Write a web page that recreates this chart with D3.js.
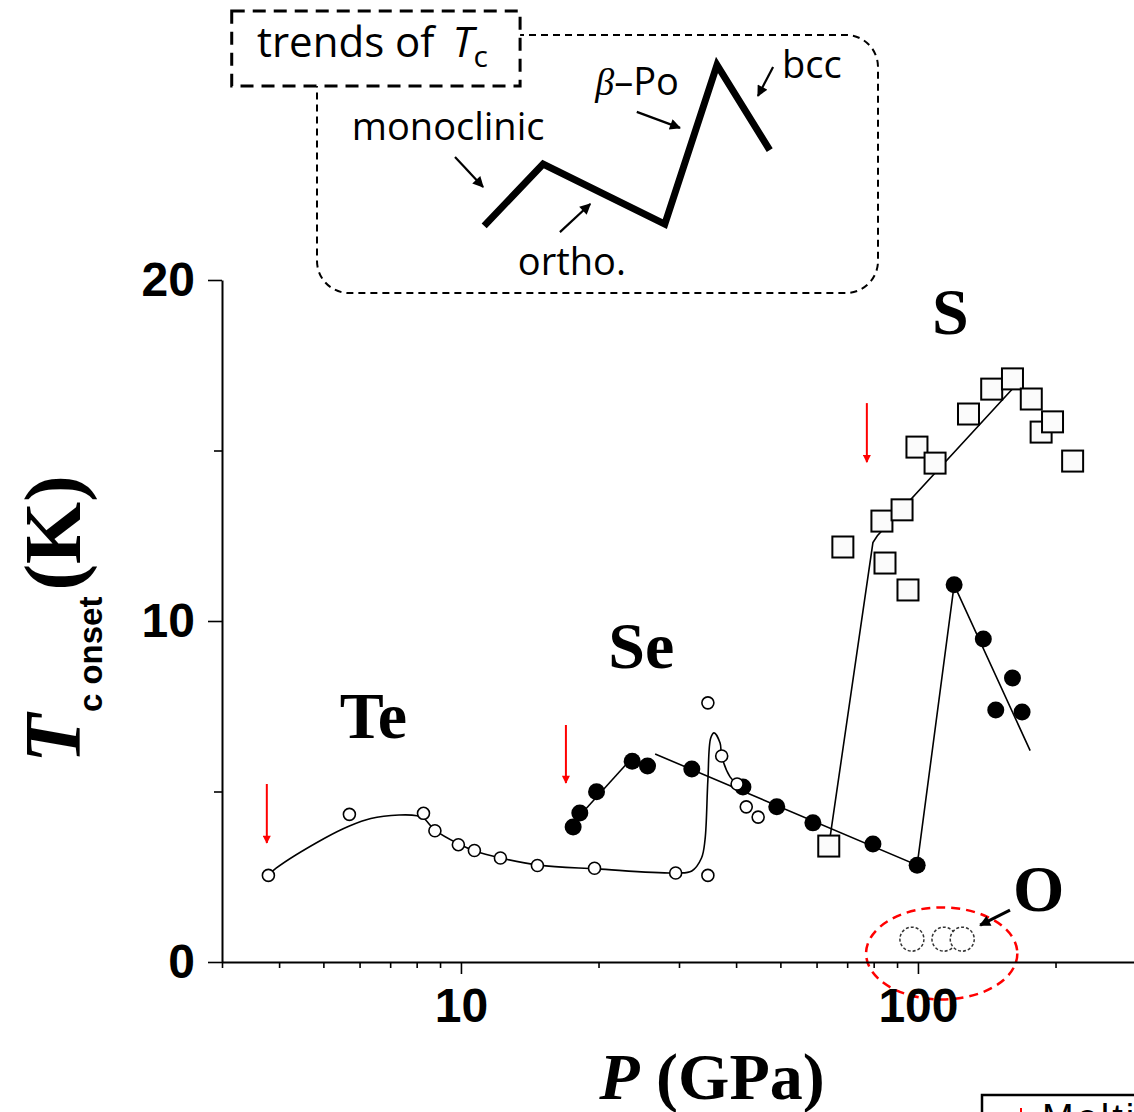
<!DOCTYPE html>
<html>
<head>
<meta charset="utf-8">
<script src="https://cdn.jsdelivr.net/npm/d3@7"></script>
<style>
	html, body { margin: 0; padding: 0; background: #fff; }
	.chart { width: 1134px; height: 1112px; overflow: hidden; }
	svg { display: block; }
</style>
</head>
<body>
<div class="chart"></div>
<script>
// Te, open circles (P in GPa, Tc onset in K)
const teP = [3.79, 5.70, 8.28, 8.77, 9.87, 10.7, 12.2, 14.7, 19.6, 29.5, 34.7, 34.7, 37.2, 40.2, 42.1, 44.7];
const teT = [2.54, 4.33, 4.36, 3.85, 3.44, 3.27, 3.05, 2.83, 2.75, 2.61, 2.54, 7.60, 6.04, 5.22, 4.55, 4.25];
// guide line through Te
const teLineP = [3.79, 3.94, 5.03, 5.70, 6.35, 7.32, 8.01, 8.28, 8.77, 9.9, 10.7, 12.2, 14.8, 19.8, 29.7, 32.0, 33.6, 34.2, 34.7, 35.2, 35.8, 36.9, 37.2, 38.8, 40.2];
const teLineT = [2.54, 2.75, 3.63, 3.99, 4.21, 4.31, 4.29, 4.22, 3.87, 3.46, 3.26, 3.05, 2.84, 2.73, 2.61, 2.67, 3.05, 3.58, 5.34, 6.57, 6.72, 6.42, 6.04, 5.43, 5.22];

// Se, filled circles
const seP = [17.6, 18.2, 19.8, 23.7, 25.6, 32.0, 41.4, 49.1, 58.9, 79.7, 99.6, 120, 139, 161, 148, 169];
const seT = [3.96, 4.37, 4.99, 5.89, 5.75, 5.66, 5.13, 4.55, 4.08, 3.46, 2.84, 11.06, 9.47, 8.33, 7.39, 7.33];
const seLineAP = [18.5, 23.0];
const seLineAT = [4.4, 5.8];
const seLineBP = [26.6, 99.6, 120, 176];
const seLineBT = [6.1, 2.84, 11.06, 6.2];

// S, open squares
const sP = [63.8, 68.5, 83.4, 84.7, 92.3, 95.1, 99.5, 109, 129, 145, 161, 177, 186, 197, 218];
const sT = [3.40, 12.17, 12.93, 11.70, 13.26, 10.91, 15.10, 14.63, 16.07, 16.80, 17.10, 16.51, 15.54, 15.84, 14.69];
const sLineP = [64.1, 79.7, 81.5, 166];
const sLineT = [3.58, 12.3, 12.5, 17.0];

// O, dashed circles
const oP = [97.0, 114, 125];
const oT = [0.67, 0.67, 0.67];

// red arrows (melting / transition marks)
const markP = [3.76, 16.97, 77.3];
const markTop = [5.22, 6.95, 16.39];
const markBottom = [3.49, 5.25, 14.66];

// element labels
const elements = ['Te', 'Se', 'S', 'O'];
const elementP = [5.43, 21.0, 107.4, 161.5];
const elementT = [6.57, 8.62, 18.42, 1.50];

// ticks
const xMajorTicks = [10, 100];
const xMinorTicks = [3, 4, 5, 6, 7, 8, 9, 20, 30, 40, 50, 60, 70, 80, 90, 200, 300];
const yMajorTicks = [0, 10, 20];
const yMinorTicks = [5, 15];

// inset: schematic trend of Tc (relative units 0-100)
const trendU = [29.8, 40.3, 62.0, 71.3, 80.7];
const trendV = [26.0, 50.0, 26.7, 88.4, 55.4];
const phases = ['monoclinic', 'ortho.', 'β–Po', 'bcc'];

d3.selection.prototype.tcChart = function init() {
	function createChart(el) {
		const $sel = d3.select(el);
		const width = 1134;
		const height = 1112;

		const serif = '"Liberation Serif", "Times New Roman", serif';
		const sans = '"Liberation Sans", Arial, sans-serif';
		const insetFont = '"Open Sans", "Noto Sans", sans-serif';

		// scales
		const scaleX = d3.scaleLog().domain([3, 300]).range([222, 1136]);
		const scaleY = d3.scaleLinear().domain([0, 20]).range([962, 280]);
		const insetX = d3.scaleLinear().domain([0, 100]).range([317, 878]);
		const insetY = d3.scaleLinear().domain([0, 100]).range([293, 35]);

		let $svg = null;
		let $vis = null;

		const zip = (a, b) => a.map((v, i) => [v, b[i]]);
		const line = d3.line().x(d => scaleX(d[0])).y(d => scaleY(d[1]));

		const Chart = {
			init() {
				$svg = $sel.append('svg')
					.attr('width', width)
					.attr('height', height)
					.style('background', '#fff');

				const $defs = $svg.append('defs');
				$defs.append('marker')
					.attr('id', 'head-red')
					.attr('markerUnits', 'userSpaceOnUse')
					.attr('viewBox', '0 0 10 10')
					.attr('refX', 9).attr('refY', 5)
					.attr('markerWidth', 9).attr('markerHeight', 8)
					.attr('orient', 'auto')
					.append('path').attr('d', 'M0,0L10,5L0,10z').attr('fill', '#f00');
				$defs.append('marker')
					.attr('id', 'head-black')
					.attr('markerUnits', 'userSpaceOnUse')
					.attr('viewBox', '0 0 10 10')
					.attr('refX', 9).attr('refY', 5)
					.attr('markerWidth', 13).attr('markerHeight', 11)
					.attr('orient', 'auto')
					.append('path').attr('d', 'M0,0L10,5L0,10z').attr('fill', '#000');

				$vis = $svg.append('g').attr('class', 'g-vis');

				Chart.render();
			},
			renderAxes() {
				$svg.append('g')
					.attr('class', 'axis-x')
					.attr('transform', `translate(0,${scaleY(0)})`)
					.call(d3.axisBottom(scaleX).tickValues(xMajorTicks).tickSize(12)
						.tickSizeOuter(0).tickPadding(14).tickFormat(d3.format('d')));
				$svg.append('g')
					.attr('transform', `translate(0,${scaleY(0)})`)
					.call(d3.axisBottom(scaleX).tickValues(xMinorTicks).tickSize(6)
						.tickSizeOuter(0).tickFormat(''))
					.call(g => g.select('.domain').remove());

				$svg.append('g')
					.attr('class', 'axis-y')
					.attr('transform', `translate(${scaleX(3)},0)`)
					.call(d3.axisLeft(scaleY).tickValues(yMajorTicks).tickSize(14)
						.tickSizeOuter(0).tickPadding(13));
				$svg.append('g')
					.attr('transform', `translate(${scaleX(3)},0)`)
					.call(d3.axisLeft(scaleY).tickValues(yMinorTicks).tickSize(8)
						.tickSizeOuter(0).tickFormat(''))
					.call(g => g.select('.domain').remove());

				$svg.selectAll('.tick line').attr('stroke', '#000').attr('stroke-width', 1.6);
				$svg.selectAll('.domain').attr('stroke', '#000').attr('stroke-width', 2);
				$svg.selectAll('.axis-x text, .axis-y text')
					.attr('fill', '#000')
					.style('font-family', sans)
					.style('font-weight', 'bold')
					.style('font-size', '48px');

				// y title
				const $yt = $svg.append('text')
					.attr('transform', `translate(80,${scaleY(10) - 2}) rotate(-90)`)
					.attr('text-anchor', 'middle')
					.style('font-weight', 'bold');
				$yt.append('tspan').text('T')
					.style('font-family', serif).style('font-style', 'italic').style('font-size', '80px');
				$yt.append('tspan').text('c onset').attr('dy', 22).attr('dx', 2)
					.style('font-family', sans).style('font-size', '33px');
				$yt.append('tspan').text('(K)').attr('dy', -22).attr('dx', 6)
					.style('font-family', serif).style('font-size', '80px');

				// x title
				const $xt = $svg.append('text')
					.attr('x', 712).attr('y', 1099)
					.attr('text-anchor', 'middle')
					.style('font-family', serif)
					.style('font-weight', 'bold')
					.style('font-size', '66px');
				$xt.append('tspan').text('P').style('font-style', 'italic');
				$xt.append('tspan').text(' (GPa)');
			},
			renderInset() {
				const $inset = $svg.append('g').attr('class', 'inset');
				$inset.append('rect')
					.attr('x', insetX(0)).attr('y', insetY(100))
					.attr('width', insetX(100) - insetX(0))
					.attr('height', insetY(0) - insetY(100))
					.attr('rx', 32)
					.attr('fill', 'none')
					.attr('stroke', '#000')
					.attr('stroke-width', 2)
					.attr('stroke-dasharray', '7 5');

				$inset.append('rect')
					.attr('x', insetX(-15.2)).attr('y', insetY(109.3))
					.attr('width', insetX(36.2) - insetX(-15.2))
					.attr('height', insetY(80.2) - insetY(109.3))
					.attr('fill', '#fff')
					.attr('stroke', '#000')
					.attr('stroke-width', 3)
					.attr('stroke-dasharray', '13 8');

				const $title = $inset.append('text')
					.attr('x', insetX(-10.7)).attr('y', insetY(91.5))
					.style('font-family', insetFont)
					.style('font-size', '42px');
				$title.append('tspan').text('trends of');
				$title.append('tspan').text('T').attr('dx', 18).style('font-style', 'italic');
				$title.append('tspan').text('c').attr('dy', 10).style('font-size', '30px');

				$inset.append('path')
					.datum(zip(trendU, trendV))
					.attr('d', d3.line().x(d => insetX(d[0])).y(d => insetY(d[1])))
					.attr('fill', 'none')
					.attr('stroke', '#000')
					.attr('stroke-width', 7)
					.attr('stroke-linejoin', 'miter');

				// phase arrows: [u0, v0, u1, v1]
				const arrows = [[24.6, 52.7, 29.6, 41.1], [43.3, 23.6, 48.7, 34.5],
					[57.0, 70.2, 64.7, 64.0], [81.3, 87.6, 78.6, 76.4]];
				$inset.selectAll('line.phase-arrow')
					.data(arrows)
					.join('line')
					.attr('class', 'phase-arrow')
					.attr('x1', d => insetX(d[0])).attr('y1', d => insetY(d[1]))
					.attr('x2', d => insetX(d[2])).attr('y2', d => insetY(d[3]))
					.attr('stroke', '#000')
					.attr('stroke-width', 2.2)
					.attr('marker-end', 'url(#head-black)');

				const labelPos = [[6.2, 59.3], [35.8, 7.0], [49.6, 76.7], [82.9, 83.3]];
				phases.forEach((p, i) => {
					const $t = $inset.append('text')
						.attr('x', insetX(labelPos[i][0]))
						.attr('y', insetY(labelPos[i][1]))
						.style('font-family', insetFont)
						.style('font-size', '38px');
					if (p.startsWith('β')) {
						$t.append('tspan').text('β').style('font-style', 'italic').style('font-family', serif);
						$t.append('tspan').text(p.slice(1));
					} else {
						$t.text(p);
					}
				});
			},
			render() {
				Chart.renderAxes();

				// guide lines
				$vis.append('path').datum(zip(teLineP, teLineT))
					.attr('d', line.curve(d3.curveCatmullRom.alpha(0.5)))
					.attr('fill', 'none').attr('stroke', '#000').attr('stroke-width', 1.6);
				line.curve(d3.curveLinear);
				[zip(seLineAP, seLineAT), zip(seLineBP, seLineBT), zip(sLineP, sLineT)].forEach(d => {
					$vis.append('path').datum(d)
						.attr('d', line)
						.attr('fill', 'none').attr('stroke', '#000').attr('stroke-width', 1.6);
				});

				// S squares
				const sq = 21;
				$vis.selectAll('.s-pt')
					.data(zip(sP, sT))
					.join('rect')
					.attr('class', 's-pt')
					.attr('x', d => scaleX(d[0]) - sq / 2)
					.attr('y', d => scaleY(d[1]) - sq / 2)
					.attr('width', sq).attr('height', sq)
					.attr('fill', '#fbfbfb')
					.attr('stroke', '#000')
					.attr('stroke-width', 2);

				// Se filled circles
				$vis.selectAll('.se-pt')
					.data(zip(seP, seT))
					.join('circle')
					.attr('class', 'se-pt')
					.attr('cx', d => scaleX(d[0]))
					.attr('cy', d => scaleY(d[1]))
					.attr('r', 8.5)
					.attr('fill', '#000');

				// Te open circles
				$vis.selectAll('.te-pt')
					.data(zip(teP, teT))
					.join('circle')
					.attr('class', 'te-pt')
					.attr('cx', d => scaleX(d[0]))
					.attr('cy', d => scaleY(d[1]))
					.attr('r', 6)
					.attr('fill', '#fff')
					.attr('stroke', '#000')
					.attr('stroke-width', 1.6);

				// O dashed circles
				$vis.selectAll('.o-pt')
					.data(zip(oP, oT))
					.join('circle')
					.attr('class', 'o-pt')
					.attr('cx', d => scaleX(d[0]))
					.attr('cy', d => scaleY(d[1]))
					.attr('r', 12)
					.attr('fill', '#fff')
					.attr('stroke', '#333')
					.attr('stroke-width', 1.5)
					.attr('stroke-dasharray', '3 2');

				// red dashed ellipse around O
				const ex0 = scaleX(77), ex1 = scaleX(165);
				const ey0 = scaleY(1.6), ey1 = scaleY(-1.1);
				$vis.append('ellipse')
					.attr('cx', (ex0 + ex1) / 2).attr('cy', (ey0 + ey1) / 2)
					.attr('rx', (ex1 - ex0) / 2).attr('ry', (ey1 - ey0) / 2)
					.attr('fill', 'none')
					.attr('stroke', '#f00')
					.attr('stroke-width', 2.5)
					.attr('stroke-dasharray', '9 6');

				// arrow pointing to O
				$vis.append('line')
					.attr('x1', scaleX(159)).attr('y1', scaleY(1.52))
					.attr('x2', scaleX(136.8)).attr('y2', scaleY(1.08))
					.attr('stroke', '#000').attr('stroke-width', 3)
					.attr('marker-end', 'url(#head-black)');

				// red down arrows
				$vis.selectAll('.mark')
					.data(markP)
					.join('line')
					.attr('class', 'mark')
					.attr('x1', d => scaleX(d)).attr('x2', d => scaleX(d))
					.attr('y1', (d, i) => scaleY(markTop[i]))
					.attr('y2', (d, i) => scaleY(markBottom[i]))
					.attr('stroke', '#f00')
					.attr('stroke-width', 2)
					.attr('marker-end', 'url(#head-red)');

				// element labels
				$vis.selectAll('.el-label')
					.data(elements)
					.join('text')
					.attr('class', 'el-label')
					.attr('x', (d, i) => scaleX(elementP[i]))
					.attr('y', (d, i) => scaleY(elementT[i]))
					.style('font-family', serif)
					.style('font-weight', 'bold')
					.style('font-size', '66px')
					.text(d => d);

				Chart.renderInset();

				// legend box, cut off at the bottom right
				$svg.append('rect')
					.attr('x', 982).attr('y', 1095)
					.attr('width', 200).attr('height', 80)
					.attr('fill', '#fff')
					.attr('stroke', '#000')
					.attr('stroke-width', 2.5);
				$svg.append('line')
					.attr('x1', 1021).attr('x2', 1021)
					.attr('y1', 1108).attr('y2', 1130)
					.attr('stroke', '#f00').attr('stroke-width', 2);
				$svg.append('text')
					.attr('x', 1042).attr('y', 1131)
					.style('font-family', sans)
					.style('font-size', '38px')
					.style('letter-spacing', '3px')
					.text('Melting');

				return Chart;
			}
		};
		Chart.init();
		return Chart;
	}

	const charts = this.nodes().map(createChart);
	return charts.length > 1 ? charts : charts.pop();
};

d3.select('.chart').tcChart();
</script>
</body>
</html>
